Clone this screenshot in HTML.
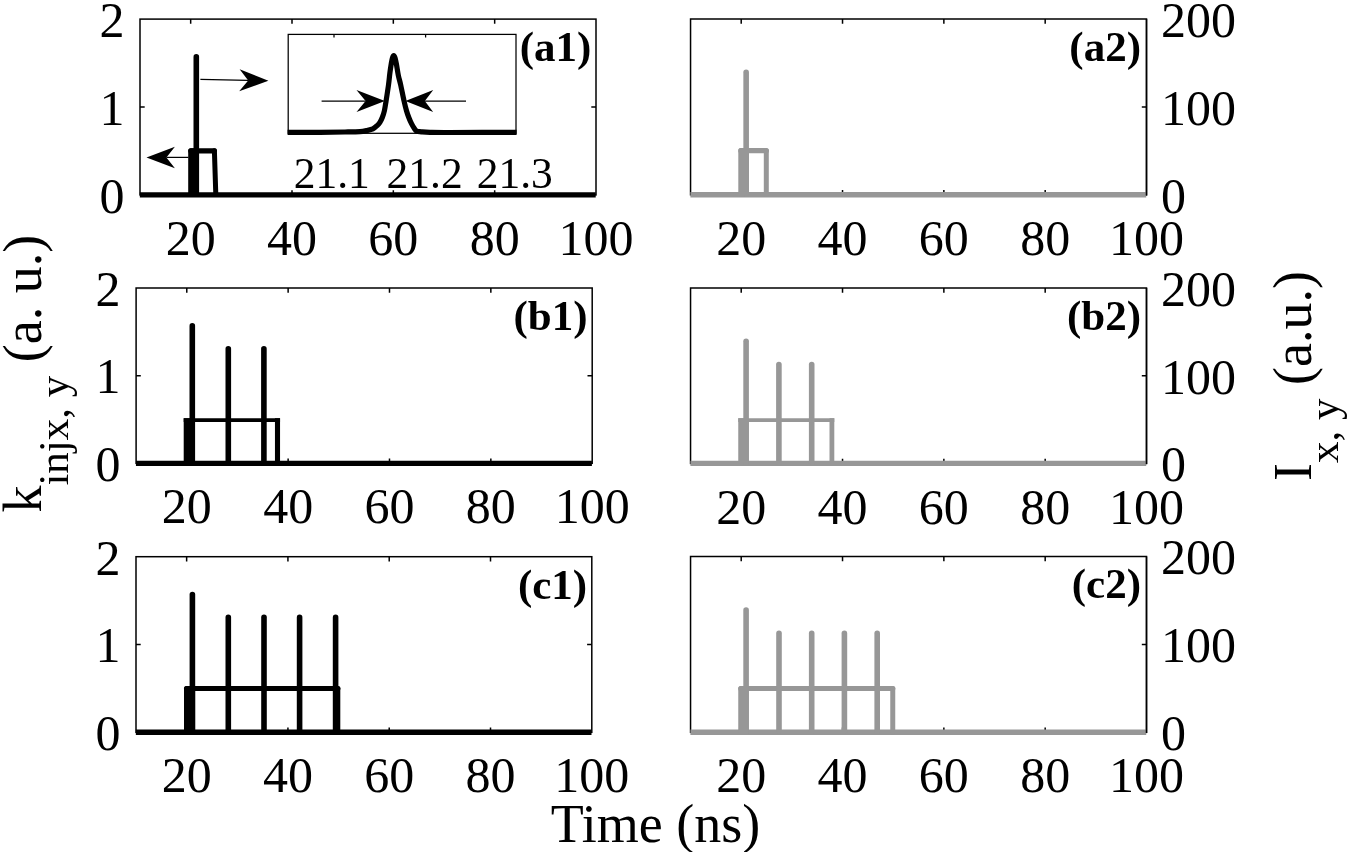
<!DOCTYPE html>
<html lang="en">
<head>
<meta charset="utf-8">
<title>Figure</title>
<style>
html,body{margin:0;padding:0;background:#fff;}
body{width:1350px;height:852px;overflow:hidden;}
svg{display:block;}
svg text{font-family:"Liberation Serif", "Times New Roman", serif;fill:#000;}
</style>
</head>
<body>
<svg width="1350" height="852" viewBox="0 0 1350 852">
<rect width="1350" height="852" fill="#fff"/>
<!-- panel a1 -->
<rect x="140.0" y="19.1" width="456.00" height="175.80" fill="none" stroke="#000" stroke-width="1.5"/>
<path d="M190.67 19.1v4.7M190.67 194.9v-4.7M292.00 19.1v4.7M292.00 194.9v-4.7M393.33 19.1v4.7M393.33 194.9v-4.7M494.67 19.1v4.7M494.67 194.9v-4.7M596.0 107.00h-4.7M140.0 107.00h4.7" stroke="#000" stroke-width="1.5" fill="none"/>
<text x="190.67" y="255.00" text-anchor="middle" font-size="50">20</text>
<text x="292.00" y="255.00" text-anchor="middle" font-size="50">40</text>
<text x="393.33" y="255.00" text-anchor="middle" font-size="50">60</text>
<text x="494.67" y="255.00" text-anchor="middle" font-size="50">80</text>
<text x="596.00" y="255.00" text-anchor="middle" font-size="50">100</text>
<text x="124.50" y="36.90" text-anchor="end" font-size="50">2</text>
<text x="124.50" y="124.80" text-anchor="end" font-size="50">1</text>
<text x="124.50" y="212.70" text-anchor="end" font-size="50">0</text>
<!-- panel b1 -->
<rect x="136.1" y="288.0" width="456.10" height="175.30" fill="none" stroke="#000" stroke-width="1.5"/>
<path d="M186.78 288.0v4.7M186.78 463.3v-4.7M288.13 288.0v4.7M288.13 463.3v-4.7M389.49 288.0v4.7M389.49 463.3v-4.7M490.84 288.0v4.7M490.84 463.3v-4.7M592.2 375.65h-4.7M136.1 375.65h4.7" stroke="#000" stroke-width="1.5" fill="none"/>
<text x="186.78" y="523.40" text-anchor="middle" font-size="50">20</text>
<text x="288.13" y="523.40" text-anchor="middle" font-size="50">40</text>
<text x="389.49" y="523.40" text-anchor="middle" font-size="50">60</text>
<text x="490.84" y="523.40" text-anchor="middle" font-size="50">80</text>
<text x="592.20" y="523.40" text-anchor="middle" font-size="50">100</text>
<text x="120.60" y="305.80" text-anchor="end" font-size="50">2</text>
<text x="120.60" y="393.45" text-anchor="end" font-size="50">1</text>
<text x="120.60" y="481.10" text-anchor="end" font-size="50">0</text>
<!-- panel c1 -->
<rect x="136.0" y="556.7" width="455.80" height="175.60" fill="none" stroke="#000" stroke-width="1.5"/>
<path d="M186.64 556.7v4.7M186.64 732.3v-4.7M287.93 556.7v4.7M287.93 732.3v-4.7M389.22 556.7v4.7M389.22 732.3v-4.7M490.51 556.7v4.7M490.51 732.3v-4.7M591.8 644.50h-4.7M136.0 644.50h4.7" stroke="#000" stroke-width="1.5" fill="none"/>
<text x="186.64" y="792.40" text-anchor="middle" font-size="50">20</text>
<text x="287.93" y="792.40" text-anchor="middle" font-size="50">40</text>
<text x="389.22" y="792.40" text-anchor="middle" font-size="50">60</text>
<text x="490.51" y="792.40" text-anchor="middle" font-size="50">80</text>
<text x="591.80" y="792.40" text-anchor="middle" font-size="50">100</text>
<text x="120.50" y="574.50" text-anchor="end" font-size="50">2</text>
<text x="120.50" y="662.30" text-anchor="end" font-size="50">1</text>
<text x="120.50" y="750.10" text-anchor="end" font-size="50">0</text>
<!-- panel a2 -->
<rect x="690.55" y="19.0" width="455.95" height="175.80" fill="none" stroke="#000" stroke-width="1.5"/>
<path d="M741.21 19.0v4.7M741.21 194.8v-4.7M842.53 19.0v4.7M842.53 194.8v-4.7M943.86 19.0v4.7M943.86 194.8v-4.7M1045.18 19.0v4.7M1045.18 194.8v-4.7M1146.5 106.90h-4.7" stroke="#000" stroke-width="1.5" fill="none"/>
<text x="741.21" y="254.90" text-anchor="middle" font-size="50">20</text>
<text x="842.53" y="254.90" text-anchor="middle" font-size="50">40</text>
<text x="943.86" y="254.90" text-anchor="middle" font-size="50">60</text>
<text x="1045.18" y="254.90" text-anchor="middle" font-size="50">80</text>
<text x="1146.50" y="254.90" text-anchor="middle" font-size="50">100</text>
<text x="1161.00" y="36.80" text-anchor="start" font-size="50">200</text>
<text x="1161.00" y="124.70" text-anchor="start" font-size="50">100</text>
<text x="1161.00" y="212.60" text-anchor="start" font-size="50">0</text>
<!-- panel b2 -->
<rect x="690.55" y="288.0" width="455.95" height="175.40" fill="none" stroke="#000" stroke-width="1.5"/>
<path d="M741.21 288.0v4.7M741.21 463.4v-4.7M842.53 288.0v4.7M842.53 463.4v-4.7M943.86 288.0v4.7M943.86 463.4v-4.7M1045.18 288.0v4.7M1045.18 463.4v-4.7M1146.5 375.70h-4.7" stroke="#000" stroke-width="1.5" fill="none"/>
<text x="741.21" y="523.50" text-anchor="middle" font-size="50">20</text>
<text x="842.53" y="523.50" text-anchor="middle" font-size="50">40</text>
<text x="943.86" y="523.50" text-anchor="middle" font-size="50">60</text>
<text x="1045.18" y="523.50" text-anchor="middle" font-size="50">80</text>
<text x="1146.50" y="523.50" text-anchor="middle" font-size="50">100</text>
<text x="1161.00" y="305.80" text-anchor="start" font-size="50">200</text>
<text x="1161.00" y="393.50" text-anchor="start" font-size="50">100</text>
<text x="1161.00" y="481.20" text-anchor="start" font-size="50">0</text>
<!-- panel c2 -->
<rect x="690.55" y="556.5" width="455.95" height="175.80" fill="none" stroke="#000" stroke-width="1.5"/>
<path d="M741.21 556.5v4.7M741.21 732.3v-4.7M842.53 556.5v4.7M842.53 732.3v-4.7M943.86 556.5v4.7M943.86 732.3v-4.7M1045.18 556.5v4.7M1045.18 732.3v-4.7M1146.5 644.40h-4.7" stroke="#000" stroke-width="1.5" fill="none"/>
<text x="741.21" y="792.40" text-anchor="middle" font-size="50">20</text>
<text x="842.53" y="792.40" text-anchor="middle" font-size="50">40</text>
<text x="943.86" y="792.40" text-anchor="middle" font-size="50">60</text>
<text x="1045.18" y="792.40" text-anchor="middle" font-size="50">80</text>
<text x="1146.50" y="792.40" text-anchor="middle" font-size="50">100</text>
<text x="1161.00" y="574.30" text-anchor="start" font-size="50">200</text>
<text x="1161.00" y="662.20" text-anchor="start" font-size="50">100</text>
<text x="1161.00" y="750.10" text-anchor="start" font-size="50">0</text>
<g stroke="#000000" fill="none" stroke-linejoin="round" stroke-linecap="butt"><path d="M139.85 194.90H595.70" stroke-width="5.4"/><path d="M190.80 194.30V150.80H196.20V194.30Z" fill="#000000" stroke-width="5.2"/><path d="M190.80 150.80H214.40" stroke-width="5.2" stroke-linecap="round"/><path d="M214.40 150.80L215.80 194.30" stroke-width="5.0" stroke-linecap="round"/><path d="M196.30 193.90V56.90" stroke-width="5.6" stroke-linecap="round"/></g>
<g stroke="#000000" fill="none" stroke-linejoin="round" stroke-linecap="butt"><path d="M135.95 463.35H591.90" stroke-width="5.4"/><path d="M183.70 463.35V418.20H195.00V463.35Z" fill="#000000" stroke="none"/><path d="M183.70 420.15H280.05" stroke-width="3.9"/><path d="M277.50 418.20L277.50 463.35" stroke-width="5.1"/><path d="M192.30 462.35V325.90" stroke-width="5.6" stroke-linecap="round"/><path d="M228.30 462.35V348.80" stroke-width="5.6" stroke-linecap="round"/><path d="M263.90 462.35V348.80" stroke-width="5.6" stroke-linecap="round"/></g>
<g stroke="#000000" fill="none" stroke-linejoin="round" stroke-linecap="butt"><path d="M135.85 732.25H591.50" stroke-width="5.4"/><path d="M186.60 731.65V688.50H192.50V731.65Z" fill="#000000" stroke-width="5.2"/><path d="M186.60 688.50H337.80" stroke-width="5.2" stroke-linecap="round"/><path d="M337.80 688.50L337.80 731.65" stroke-width="5.0" stroke-linecap="round"/><path d="M192.40 731.25V594.60" stroke-width="5.6" stroke-linecap="round"/><path d="M228.30 731.25V617.40" stroke-width="5.6" stroke-linecap="round"/><path d="M264.00 731.25V617.40" stroke-width="5.6" stroke-linecap="round"/><path d="M299.60 731.25V617.40" stroke-width="5.6" stroke-linecap="round"/><path d="M335.60 731.25V617.40" stroke-width="5.6" stroke-linecap="round"/></g>
<g stroke="#979797" fill="none" stroke-linejoin="round" stroke-linecap="butt"><path d="M690.40 194.70H1146.20" stroke-width="5.4"/><path d="M740.90 194.10V150.70H746.30V194.10Z" fill="#979797" stroke-width="5.2"/><path d="M740.90 150.70H766.30" stroke-width="5.2" stroke-linecap="round"/><path d="M766.30 150.70L766.30 194.10" stroke-width="5.0" stroke-linecap="round"/><path d="M746.15 193.70V72.40" stroke-width="5.6" stroke-linecap="round"/></g>
<g stroke="#979797" fill="none" stroke-linejoin="round" stroke-linecap="butt"><path d="M690.40 463.40H1146.20" stroke-width="5.4"/><path d="M738.25 463.40V418.20H748.75V463.40Z" fill="#979797" stroke="none"/><path d="M738.25 420.10H834.30" stroke-width="3.8"/><path d="M831.90 418.20L831.90 463.40" stroke-width="4.8"/><path d="M746.10 462.40V341.25" stroke-width="5.6" stroke-linecap="round"/><path d="M778.90 462.40V364.60" stroke-width="5.6" stroke-linecap="round"/><path d="M811.70 462.40V364.60" stroke-width="5.6" stroke-linecap="round"/></g>
<g stroke="#979797" fill="none" stroke-linejoin="round" stroke-linecap="butt"><path d="M690.40 732.30H1146.20" stroke-width="5.4"/><path d="M740.85 731.70V688.50H746.15V731.70Z" fill="#979797" stroke-width="5.2"/><path d="M740.85 688.50H892.75" stroke-width="5.2" stroke-linecap="round"/><path d="M892.75 688.50L892.75 731.70" stroke-width="5.0" stroke-linecap="round"/><path d="M746.10 731.30V610.00" stroke-width="5.6" stroke-linecap="round"/><path d="M779.00 731.30V633.40" stroke-width="5.6" stroke-linecap="round"/><path d="M811.70 731.30V633.40" stroke-width="5.6" stroke-linecap="round"/><path d="M844.40 731.30V633.40" stroke-width="5.6" stroke-linecap="round"/><path d="M877.20 731.30V633.40" stroke-width="5.6" stroke-linecap="round"/></g>
<path d="M1146.5 19.0V195.55" stroke="#000" stroke-width="1.5" fill="none"/>
<path d="M1146.5 288.0V464.15" stroke="#000" stroke-width="1.5" fill="none"/>
<path d="M1146.5 556.5V733.05" stroke="#000" stroke-width="1.5" fill="none"/>
<text x="591.40" y="60.90" text-anchor="end" font-size="43" font-weight="bold">(a1)</text>
<text x="587.60" y="329.80" text-anchor="end" font-size="43" font-weight="bold">(b1)</text>
<text x="587.20" y="598.50" text-anchor="end" font-size="43" font-weight="bold">(c1)</text>
<text x="1141.00" y="60.80" text-anchor="end" font-size="43" font-weight="bold">(a2)</text>
<text x="1141.00" y="329.80" text-anchor="end" font-size="43" font-weight="bold">(b2)</text>
<text x="1141.00" y="598.30" text-anchor="end" font-size="43" font-weight="bold">(c2)</text>
<!-- inset -->
<rect x="288.2" y="34.4" width="227.80" height="98.90" fill="#fff" stroke="#000" stroke-width="1.25"/>
<path d="M334 34.4v3.2M425.6 34.4v3.2M334 133.3v-3.2M425.6 133.3v-3.2" stroke="#000" stroke-width="1.25" fill="none"/>
<path d="M287.60 132.40C293.00 132.38 310.43 132.37 320.00 132.30C329.57 132.23 338.33 132.12 345.00 132.00C351.67 131.88 356.42 131.83 360.00 131.60C363.58 131.37 364.35 131.05 366.50 130.60C368.65 130.15 371.08 129.78 372.90 128.90C374.72 128.02 376.23 126.38 377.40 125.30C378.57 124.22 379.07 123.73 379.90 122.40C380.73 121.07 381.65 119.23 382.40 117.30C383.15 115.37 383.78 113.55 384.40 110.80C385.02 108.05 385.42 105.10 386.10 100.80C386.78 96.50 387.87 89.65 388.50 85.00C389.13 80.35 389.43 76.48 389.90 72.90C390.37 69.32 390.87 66.02 391.30 63.50C391.73 60.98 392.09 59.12 392.50 57.80C392.91 56.48 393.33 55.60 393.75 55.60C394.17 55.60 394.57 56.48 395.00 57.80C395.43 59.12 395.75 60.60 396.30 63.50C396.85 66.40 397.57 71.62 398.30 75.20C399.03 78.78 399.75 80.73 400.70 85.00C401.65 89.27 403.03 96.50 404.00 100.80C404.97 105.10 405.72 108.05 406.50 110.80C407.28 113.55 407.87 115.15 408.70 117.30C409.53 119.45 410.58 121.87 411.50 123.70C412.42 125.53 413.32 127.05 414.20 128.30C415.08 129.55 415.62 130.62 416.80 131.20C417.98 131.78 419.10 131.62 421.30 131.80C423.50 131.98 425.22 132.18 430.00 132.30C434.78 132.42 435.57 132.50 450.00 132.50C464.43 132.50 505.50 132.33 516.60 132.30" fill="none" stroke="#000" stroke-width="5.2" stroke-linejoin="round"/>
<text x="331.8" y="187.5" text-anchor="middle" font-size="43.5">21.1</text>
<text x="424.6" y="187.5" text-anchor="middle" font-size="43.5">21.2</text>
<text x="514.8" y="187.5" text-anchor="middle" font-size="43.5">21.3</text>
<path d="M321.60 101.10L365.60 101.03" stroke="#000" stroke-width="1.25" fill="none"/>
<path d="M384.90 101.00L356.52 112.04L365.60 101.03L356.48 90.04Z" fill="#000"/>
<path d="M466.00 101.10L424.80 101.03" stroke="#000" stroke-width="1.25" fill="none"/>
<path d="M405.40 101.00L433.22 90.05L424.80 101.03L433.18 112.05Z" fill="#000"/>
<path d="M200.40 79.40L248.20 80.38" stroke="#000" stroke-width="1.25" fill="none"/>
<path d="M268.40 80.80L239.18 91.15L248.20 80.38L239.63 69.26Z" fill="#000"/>
<path d="M188.40 157.40L166.40 157.40" stroke="#000" stroke-width="1.25" fill="none"/>
<path d="M146.50 157.40L174.90 146.65L166.40 157.40L174.90 168.15Z" fill="#000"/>
<text x="655.5" y="842.2" text-anchor="middle" font-size="54">Time (ns)</text>
<text transform="translate(40.8 512.6) rotate(-90)" font-size="54">k<tspan font-size="43" dy="27">injx, y</tspan><tspan dy="-27"> (a. u.)</tspan></text>
<text transform="translate(1311 481) rotate(-90)" font-size="54">I<tspan font-size="43" dy="26.5">x, y</tspan><tspan dy="-26.5"> (a.u.)</tspan></text>
</svg>
</body>
</html>
